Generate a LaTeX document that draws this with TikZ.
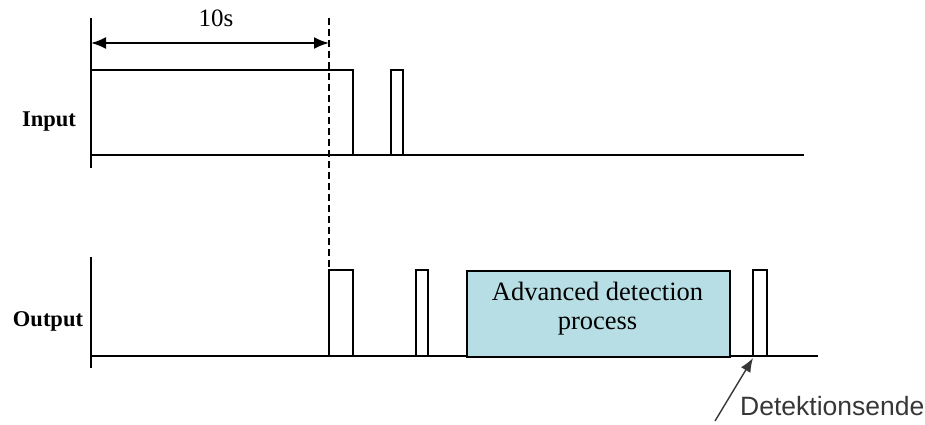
\documentclass[tikz,border=0pt]{standalone}
\usepackage{fontspec}
\setmainfont{Liberation Serif}
\newfontfamily\sansf{Liberation Sans}
\usetikzlibrary{arrows.meta}
\definecolor{boxfill}{RGB}{183,222,228}
\definecolor{txtgray}{RGB}{55,55,55}
\begin{document}
\begin{tikzpicture}[x=1pt,y=-1pt,
  sig/.style={line width=2pt, line join=miter, line cap=rect},
  axis/.style={line width=2.2pt},
  lbl/.style={font=\fontsize{22.5}{24}\selectfont\bfseries, inner sep=0pt},
  dimarrow/.style={line width=2pt, {Latex[length=15pt,width=12pt]}-{Latex[length=15pt,width=12pt]}},
  guide/.style={line width=2pt, dash pattern=on 7pt off 4pt},
  procbox/.style={draw, line width=2pt, fill=boxfill, minimum width=263pt, minimum height=86pt, inner sep=0pt, anchor=north west},
  proctxt/.style={align=center, inner sep=0pt, font=\fontsize{26.5}{29}\selectfont},
  note/.style={font=\sansf\fontsize{26.5}{28}\selectfont, text=txtgray, inner sep=0pt, anchor=west},
  pointer/.style={line width=1.4pt, color=txtgray, -{Latex[length=14pt,width=11pt]}}]
\useasboundingbox (0,0) rectangle (925,424);

% ---------- Input ----------
\coordinate (inTop) at (91,18);
\coordinate (inBot) at (91,168);
\draw[axis] (inTop) -- (inBot);
\coordinate (inB0) at (91,155);
\coordinate (inB1) at (803,155);
\draw[sig] (inB0) -- (inB1);
\draw[sig] (91,70) -- (353,70) -- (353,155);
\draw[sig] (391,155) -- (391,70) -- (403,70) -- (403,155);
\node[lbl] (inlabel) at (49,122) {Input};

% ---------- 10 s dimension ----------
\coordinate (dimL) at (91,43);
\coordinate (dimR) at (329,43);
\draw[dimarrow] (dimL) -- (dimR);
\node[font=\fontsize{25}{27}\selectfont, inner sep=0pt] (tenS) at (216,18) {10s};

% ---------- dashed guide ----------
\coordinate (gTop) at (329,18);
\coordinate (gBot) at (329,270);
\draw[guide] (gTop) -- (gBot);

% ---------- Output ----------
\coordinate (outTop) at (91,257);
\coordinate (outBot) at (91,368);
\draw[axis] (outTop) -- (outBot);
\coordinate (outB0) at (91,356);
\coordinate (outB1) at (817,356);
\draw[sig] (outB0) -- (outB1);
\draw[sig] (329,356) -- (329,270) -- (353,270) -- (353,356);
\draw[sig] (416,356) -- (416,270) -- (428,270) -- (428,356);
\node[procbox] (proc) at (466,270) {};
\node[proctxt] (proclabel) at (597.5,309) {Advanced detection\\process};
\draw[sig] (753,356) -- (753,270) -- (767,270) -- (767,356);
\node[lbl] (outlabel) at (48,321) {Output};

% ---------- Detektionsende ----------
\coordinate (endPt) at (753,358);
\coordinate (ptrStart) at (715,421);
\draw[pointer] (ptrStart) -- (endPt);
\node[note] (dend) at (740,406) {Detektionsende};
\end{tikzpicture}
\end{document}
